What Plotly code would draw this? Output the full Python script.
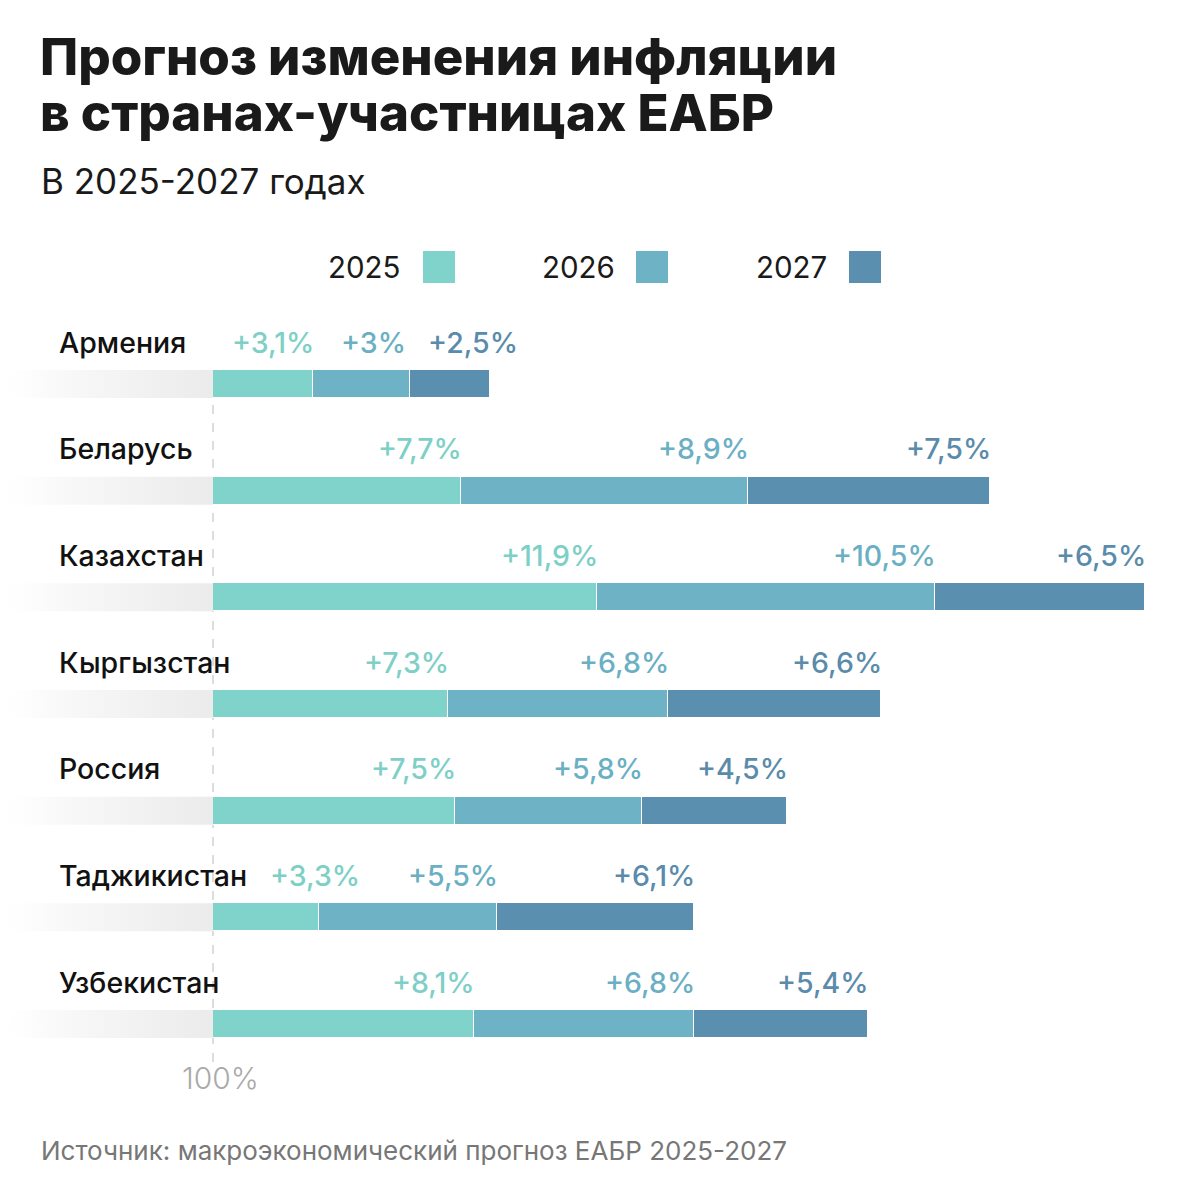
import plotly.graph_objects as go

countries = ["Армения", "Беларусь", "Казахстан", "Кыргызстан", "Россия", "Таджикистан", "Узбекистан"]
years = ["2025", "2026", "2027"]
v2025 = [3.1, 7.7, 11.9, 7.3, 7.5, 3.3, 8.1]
v2026 = [3.0, 8.9, 10.5, 6.8, 5.8, 5.5, 6.8]
v2027 = [2.5, 7.5, 6.5, 6.6, 4.5, 6.1, 5.4]
labels2025 = ["+3,1%", "+7,7%", "+11,9%", "+7,3%", "+7,5%", "+3,3%", "+8,1%"]
labels2026 = ["+3%", "+8,9%", "+10,5%", "+6,8%", "+5,8%", "+5,5%", "+6,8%"]
labels2027 = ["+2,5%", "+7,5%", "+6,5%", "+6,6%", "+4,5%", "+6,1%", "+5,4%"]

title_lines = ["Прогноз изменения инфляции", "в странах-участницах ЕАБР"]
subtitle = "В 2025-2027 годах"
source = "Источник: макроэкономический прогноз ЕАБР 2025-2027"
base_label = "100%"

bar_colors = ["#80D3CA", "#6DB3C5", "#5B8FAF"]
text_colors = ["#7ECFC6", "#6AAFC3", "#5A8BAB"]

# label nudges (pixels) to avoid overlaps
label_shift = {(0, 1): -5, (0, 2): 27, (5, 0): 40}

ys = [-i for i in range(len(countries))]
series = [v2025, v2026, v2027]
series_labels = [labels2025, labels2026, labels2027]

OFF = 8  # page body margin
W = H = 1200
PX_PER_X = 932 / 28.9
PX_PER_Y = 106.67
XMIN = -(213 - OFF) / PX_PER_X
XMAX = XMIN + W / PX_PER_X
YMAX = (384 - OFF) / PX_PER_Y
YMIN = YMAX - H / PX_PER_Y
BAR_W = 28 / PX_PER_Y


def px(xp):
    return (xp - OFF) / W


def py(yp):
    return 1 - (yp - OFF) / H


fig = go.Figure()

# gradient background strip left of each bar
for y in ys:
    fig.add_trace(go.Scatter(
        x=[XMIN, 0, 0, XMIN, XMIN],
        y=[y - BAR_W / 2, y - BAR_W / 2, y + BAR_W / 2, y + BAR_W / 2, y - BAR_W / 2],
        mode="lines", line=dict(width=0), fill="toself",
        fillgradient=dict(type="horizontal",
                          colorscale=[[0, "rgba(255,255,255,1)"], [0.35, "#F7F7F7"], [1, "#EBEBEB"]]),
        hoverinfo="skip", showlegend=False))

for k, vals in enumerate(series):
    fig.add_trace(go.Bar(
        x=vals, y=ys, orientation="h", width=BAR_W,
        marker=dict(color=bar_colors[k], line=dict(color="white", width=1.5)),
        name=years[k], showlegend=False, hoverinfo="skip"))

annotations = []
for i, y in enumerate(ys):
    cum = 0
    for k in range(3):
        cum += series[k][i]
        annotations.append(dict(
            x=cum, y=y, xref="x", yref="y", text=series_labels[k][i],
            xanchor="right", yanchor="middle", showarrow=False,
            xshift=3 + label_shift.get((i, k), 0), yshift=42,
            font=dict(family="Inter", size=28.5, color=text_colors[k], weight=500)))
    annotations.append(dict(
        x=px(57), y=y, xref="paper", yref="y", text=countries[i], xanchor="left", yanchor="middle",
        showarrow=False, yshift=42,
        font=dict(family="Inter", size=28.5, color="#111111", weight=500)))

for j, (line, yc) in enumerate(zip(title_lines, [57, 112])):
    annotations.append(dict(x=px(38), y=py(yc), xref="paper", yref="paper", text=line,
                            xanchor="left", yanchor="middle", showarrow=False,
                            font=dict(family="Inter", size=51, color="#1A1A1A", weight=800)))

annotations += [
    dict(x=px(39), y=py(181), xref="paper", yref="paper", text=subtitle, xanchor="left",
         yanchor="middle", showarrow=False, font=dict(family="Inter", size=35, color="#1A1A1A")),
    dict(x=0, y=ys[-1], xref="x", yref="y", text=base_label, xanchor="center", yanchor="middle",
         xshift=7, yshift=-54, showarrow=False,
         font=dict(family="Inter", size=30, color="#AAAAAA", weight=300)),
    dict(x=px(39), y=py(1150), xref="paper", yref="paper", text=source, xanchor="left",
         yanchor="middle", showarrow=False, font=dict(family="Inter", size=26, color="#777777")),
]

# legend
legend_text_right = [403, 617, 829]
legend_sq_left = [423, 636, 849]
shapes = []
for k in range(3):
    annotations.append(dict(x=px(legend_text_right[k]), y=py(267), xref="paper", yref="paper",
                            text=years[k], xanchor="right", yanchor="middle", showarrow=False,
                            font=dict(family="Inter", size=29.5, color="#1A1A1A")))
    shapes.append(dict(type="rect", xref="paper", yref="paper",
                       x0=px(legend_sq_left[k]), x1=px(legend_sq_left[k] + 32),
                       y0=py(283), y1=py(251),
                       fillcolor=bar_colors[k], line=dict(width=0)))

# dashed baseline
shapes.append(dict(type="line", xref="x", yref="paper", x0=0, x1=0,
                   y0=py(1062), y1=py(370),
                   line=dict(color="#BBBBBB", width=1, dash="dash"), layer="below"))

fig.update_layout(
    width=W, height=H,
    margin=dict(l=0, r=0, t=0, b=0),
    paper_bgcolor="white", plot_bgcolor="white",
    barmode="stack", bargap=0,
    xaxis=dict(range=[XMIN, XMAX], visible=False, fixedrange=True),
    yaxis=dict(range=[YMIN, YMAX], visible=False, fixedrange=True),
    annotations=annotations, shapes=shapes,
)

fig.write_html("out.html")
